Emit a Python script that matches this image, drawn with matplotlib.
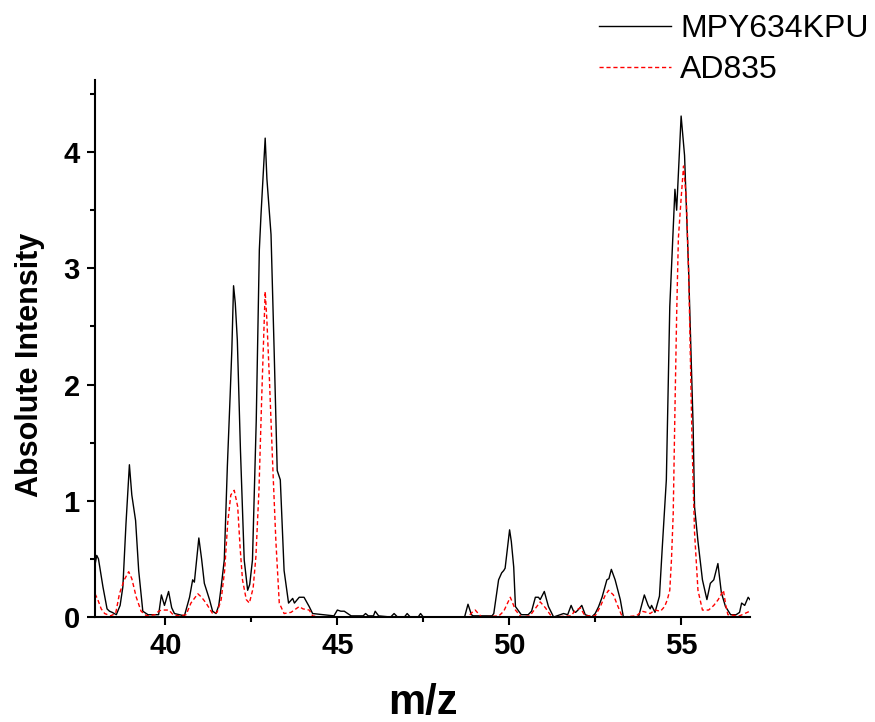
import matplotlib
matplotlib.use("Agg")
import matplotlib.pyplot as plt
from matplotlib.ticker import MultipleLocator

plt.rcParams["font.family"] = ["Liberation Sans", "DejaVu Sans"]

# MPY634KPU spectrum (m/z, intensity)
mz_mpy = [37.95, 38.00, 38.05, 38.18, 38.30, 38.37, 38.45, 38.57, 38.68, 38.76,
          38.85, 38.95, 39.02, 39.13, 39.22, 39.34, 39.49, 39.80, 39.88, 39.97,
          40.09, 40.18, 40.26, 40.55, 40.70, 40.79, 40.84, 40.97, 41.05, 41.13,
          41.28, 41.37, 41.47, 41.55, 41.62, 41.71, 41.80, 41.88, 41.93, 41.98,
          42.03, 42.09, 42.18, 42.29, 42.39, 42.45, 42.53, 42.64, 42.73, 42.78,
          42.90, 42.95, 43.07, 43.16, 43.25, 43.34, 43.45, 43.58, 43.70, 43.75,
          43.89, 44.03, 44.18, 44.28, 44.90, 45.00, 45.10, 45.20, 45.30, 45.40,
          45.75, 45.82, 45.90, 46.05, 46.10, 46.20, 46.55, 46.65, 46.75, 46.95,
          47.03, 47.12, 47.35, 47.42, 47.50, 48.70, 48.80, 48.90, 48.95, 49.50,
          49.55, 49.69, 49.78, 49.84, 49.88, 50.01, 50.06, 50.13, 50.18, 50.35,
          50.55, 50.65, 50.76, 50.85, 50.90, 51.02, 51.14, 51.29, 51.58, 51.70,
          51.80, 51.87, 51.93, 52.00, 52.11, 52.21, 52.40, 52.50, 52.60, 52.70,
          52.84, 52.90, 52.97, 53.08, 53.23, 53.32, 53.76, 53.85, 53.93, 54.04,
          54.10, 54.14, 54.24, 54.37, 54.45, 54.57, 54.67, 54.82, 54.87, 55.00,
          55.10, 55.22, 55.35, 55.39, 55.49, 55.62, 55.75, 55.85, 55.95, 56.07,
          56.17, 56.29, 56.44, 56.60, 56.70, 56.76, 56.85, 56.95, 57.00]
int_mpy = [0.45, 0.53, 0.50, 0.26, 0.07, 0.05, 0.04, 0.02, 0.10, 0.26,
           0.80, 1.31, 1.05, 0.83, 0.40, 0.05, 0.02, 0.02, 0.19, 0.10,
           0.22, 0.08, 0.03, 0.01, 0.17, 0.32, 0.30, 0.68, 0.50, 0.29,
           0.15, 0.05, 0.03, 0.10, 0.26, 0.49, 1.30, 1.90, 2.30, 2.85,
           2.70, 2.38, 1.44, 0.49, 0.23, 0.28, 0.49, 1.69, 3.16, 3.47,
           4.12, 3.77, 3.29, 2.30, 1.26, 1.18, 0.40, 0.12, 0.16, 0.12,
           0.17, 0.17, 0.09, 0.03, 0.01, 0.06, 0.05, 0.05, 0.03, 0.01,
           0.01, 0.03, 0.01, 0.01, 0.05, 0.01, 0.00, 0.03, 0.00, 0.00,
           0.03, 0.00, 0.00, 0.03, 0.00, 0.00, 0.11, 0.02, 0.01, 0.01,
           0.03, 0.32, 0.38, 0.40, 0.42, 0.75, 0.65, 0.43, 0.09, 0.02,
           0.02, 0.05, 0.17, 0.17, 0.15, 0.22, 0.09, 0.00, 0.03, 0.02,
           0.10, 0.05, 0.04, 0.06, 0.10, 0.02, 0.00, 0.03, 0.09, 0.17,
           0.32, 0.33, 0.41, 0.32, 0.15, 0.00, 0.00, 0.10, 0.19, 0.10,
           0.07, 0.10, 0.04, 0.18, 0.59, 1.18, 2.67, 3.68, 3.50, 4.31,
           3.97, 2.96, 1.63, 0.95, 0.65, 0.32, 0.15, 0.29, 0.32, 0.46,
           0.21, 0.09, 0.02, 0.02, 0.04, 0.12, 0.10, 0.17, 0.15]

# AD835 spectrum
mz_ad = [37.95, 38.03, 38.13, 38.23, 38.40, 38.55, 38.66, 38.80, 38.93, 39.02,
         39.15, 39.29, 39.45, 39.70, 39.80, 39.88, 40.10, 40.22, 40.40, 40.60,
         40.74, 40.94, 41.05, 41.18, 41.37, 41.50, 41.62, 41.72, 41.81, 41.90,
         42.00, 42.10, 42.17, 42.24, 42.35, 42.44, 42.55, 42.63, 42.72, 42.80,
         42.90, 42.95, 43.02, 43.12, 43.21, 43.31, 43.45, 43.65, 43.89, 44.00,
         44.18, 44.28, 44.50, 48.80, 48.92, 49.01, 49.10, 49.20, 49.70, 49.84,
         50.03, 50.10, 50.18, 50.35, 50.60, 50.70, 50.90, 51.05, 51.24, 51.80,
         51.90, 52.07, 52.20, 52.50, 52.65, 52.78, 52.89, 53.03, 53.15, 53.29,
         53.70, 53.86, 54.00, 54.10, 54.24, 54.40, 54.52, 54.60, 54.67, 54.72,
         54.77, 54.82, 54.87, 54.92, 55.00, 55.07, 55.15, 55.22, 55.32, 55.39,
         55.49, 55.62, 55.80, 55.95, 56.08, 56.23, 56.30, 56.36, 56.70, 56.85,
         57.00]
int_ad = [0.20, 0.15, 0.07, 0.03, 0.01, 0.03, 0.20, 0.32, 0.39, 0.33,
          0.17, 0.05, 0.01, 0.02, 0.05, 0.06, 0.06, 0.02, 0.01, 0.02,
          0.12, 0.20, 0.17, 0.12, 0.03, 0.04, 0.15, 0.40, 0.81, 1.05,
          1.09, 0.95, 0.60, 0.32, 0.15, 0.12, 0.25, 0.52, 1.10, 1.90,
          2.80, 2.55, 2.07, 1.30, 0.66, 0.12, 0.03, 0.04, 0.09, 0.07,
          0.06, 0.01, 0.00, 0.00, 0.04, 0.06, 0.03, 0.00, 0.01, 0.05,
          0.17, 0.12, 0.06, 0.00, 0.01, 0.05, 0.13, 0.08, 0.00, 0.01,
          0.05, 0.08, 0.01, 0.01, 0.09, 0.18, 0.23, 0.19, 0.10, 0.00,
          0.01, 0.05, 0.04, 0.03, 0.06, 0.05, 0.09, 0.15, 0.23, 0.50,
          0.89, 1.78, 2.60, 3.26, 3.60, 3.88, 3.60, 2.96, 1.48, 0.73,
          0.23, 0.06, 0.06, 0.10, 0.15, 0.23, 0.10, 0.02, 0.01, 0.03,
          0.05]

fig = plt.figure(figsize=(8.75, 7.22), dpi=100)
ax = fig.add_axes([0.1086, 0.1454, 0.7484, 0.7438])

ax.plot(mz_mpy, int_mpy, color="black", lw=1.0, label="MPY634KPU")
ax.plot(mz_ad, int_ad, color="#ff0000", lw=1.0, ls=(0, (3, 2)), label="AD835")

ax.set_xlim(37.95, 57.0)
ax.set_ylim(0, 4.62)
ax.xaxis.set_major_locator(MultipleLocator(5))
ax.xaxis.set_minor_locator(MultipleLocator(2.5))
ax.yaxis.set_major_locator(MultipleLocator(1))
ax.yaxis.set_minor_locator(MultipleLocator(0.5))
for s in ("top", "right"):
    ax.spines[s].set_visible(False)
for s in ("left", "bottom"):
    ax.spines[s].set_linewidth(1.5)
ax.tick_params(which="major", direction="out", length=6, width=1.5,
               labelsize=21, pad=5)
ax.tick_params(which="minor", direction="out", length=3.5, width=1.5)
for lab in ax.get_xticklabels() + ax.get_yticklabels():
    lab.set_fontweight("bold")

ax.set_xlabel("m/z", fontsize=30, fontweight="bold", labelpad=16)
ax.set_ylabel("Absolute Intensity", fontsize=22, fontweight="bold")
ax.yaxis.set_label_coords(-0.077, 0.469)

fig.legend(loc="upper right", bbox_to_anchor=(0.993, 0.980), frameon=False,
           fontsize=23, handlelength=2.25, handletextpad=0.3, labelspacing=0.34,
           borderpad=0, borderaxespad=0)

fig.savefig("out.png", dpi=100)
